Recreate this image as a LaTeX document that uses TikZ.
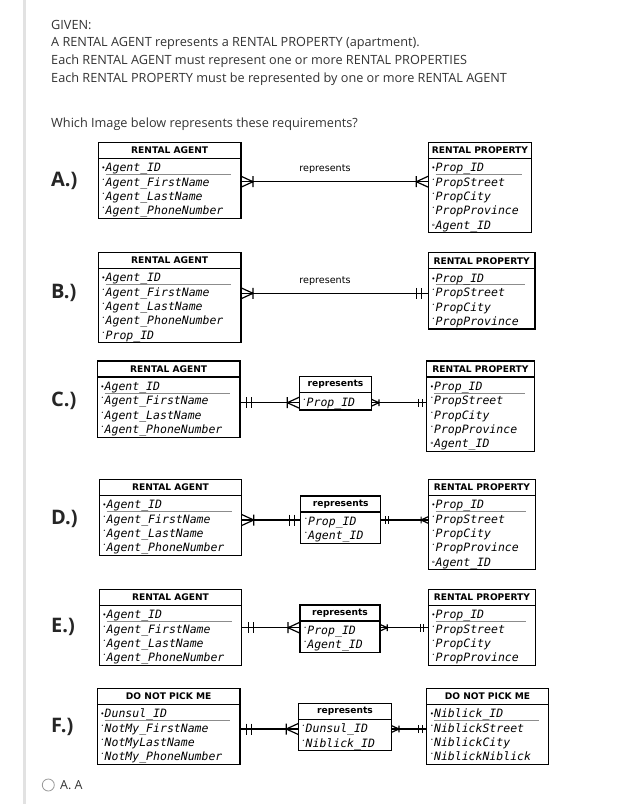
\documentclass[tikz,border=0pt]{standalone}
\usepackage{fontspec}
\setmainfont{Open Sans}
\newfontfamily\erfont{DejaVu Sans}
\newfontfamily\attrfont{DejaVu Sans Mono}
\usetikzlibrary{positioning}

\definecolor{ink}{HTML}{333333}
\definecolor{keyline}{HTML}{8C8C8C}
\definecolor{sidebar}{HTML}{E2E2E2}
\definecolor{radio}{HTML}{9A9A9A}

% attribute markers: key, plain attribute, foreign key
\newcommand\pkdot{\makebox[4.4pt][c]{\fontsize{7}{7}\selectfont\raisebox{1pt}{•}}}
\newcommand\atdot{\makebox[4.4pt][c]{\fontsize{4.5}{4.5}\selectfont\raisebox{5pt}{•}}}
\newcommand\fkdot{\makebox[4.4pt][c]{\fontsize{7}{7}\selectfont °}}
\newcommand\pkrow[1]{\pkdot\rlap{\textcolor{keyline}{\rule[-2.6pt]{\dimexpr\linewidth-11pt\relax}{.7pt}}}#1}

\begin{document}
\begin{tikzpicture}[x=1pt, y=-1pt,
    txt/.style={anchor=base west, inner sep=0pt, text=ink, font=\fontsize{12.7}{16}\selectfont},
    opt/.style={anchor=west, inner sep=0pt, text=black!85, font=\bfseries\fontsize{20}{22}\selectfont},
    head/.style={draw, line width=1.2pt, outer sep=0pt, anchor=north west, minimum height=16pt, inner sep=0pt, font=\erfont\bfseries\fontsize{9.1}{10}\selectfont},
    attrs/.style={draw, line width=1.2pt, outer sep=0pt, inner xsep=3pt, inner ysep=1.5pt, align=left, text height=12.1pt, font=\attrfont\itshape\fontsize{11.5}{14.3}\selectfont},
    r1/.style={text depth=2.1pt},
    r2/.style={text depth=16.4pt},
    r4/.style={text depth=45pt},
    r5/.style={text depth=59.3pt},
    lbl/.style={inner sep=0pt, font=\erfont\fontsize{9.6}{11}\selectfont},
    conn/.style={line width=1.2pt},
    crow/.pic={\draw[line width=1.2pt] (0,-5.5) -- (12,0) -- (0,5.5) (12,-5.5) -- (12,5.5);},
    bars/.pic={\draw[line width=1.2pt] (6.5,-5.5) -- (6.5,5.5) (11.5,-5.5) -- (11.5,5.5);}
]
\useasboundingbox (0,0) rectangle (621,804);
\fill[sidebar] (22.7,0) rectangle (25.5,804);

\node[txt] (given) at (51,29.3) {GIVEN:};
\node[txt] (line1) at (51,46.9) {A RENTAL AGENT represents a RENTAL PROPERTY (apartment).};
\node[txt] (line2) at (51,64.5) {Each RENTAL AGENT must represent one or more RENTAL PROPERTIES};
\node[txt] (line3) at (51,82.1) {Each RENTAL PROPERTY must be represented by one or more RENTAL AGENT};
\node[txt] (ask) at (51,127) {Which Image below represents these requirements?};

% A
\node[opt] (optA) at (51,181) {A.)};
\node[head, minimum width=142.7pt] (agentAh) at (98.3,142.3) {RENTAL AGENT};
\node[attrs, r4, text width=136.7pt, below=0pt of agentAh] (agentA) {\pkrow{Agent\_ID}\\\atdot Agent\_FirstName\\\atdot Agent\_LastName\\\atdot Agent\_PhoneNumber};
\node[head, minimum width=103.4pt] (propAh) at (428.3,142.3) {RENTAL PROPERTY};
\node[attrs, r5, text width=97.4pt, below=0pt of propAh] (propA) {\pkrow{Prop\_ID}\\\atdot PropStreet\\\atdot PropCity\\\atdot PropProvince\\\fkdot Agent\_ID};
\coordinate (lnA) at (0,181.7);
\node[lbl] (relA) at (325,169) {represents};
\draw[conn] (agentA.east |- lnA) -- (propA.west |- lnA);
\pic at (agentA.east |- lnA) {crow};
\pic[xscale=-1] at (propA.west |- lnA) {crow};

% B
\node[opt] (optB) at (51,293) {B.)};
\node[head, minimum width=142.7pt] (agentBh) at (98.3,252.3) {RENTAL AGENT};
\node[attrs, r5, text width=136.7pt, below=0pt of agentBh] (agentB) {\pkrow{Agent\_ID}\\\atdot Agent\_FirstName\\\atdot Agent\_LastName\\\atdot Agent\_PhoneNumber\\\atdot Prop\_ID};
\node[head, minimum width=106.7pt] (propBh) at (428.3,252.8) {RENTAL PROPERTY};
\node[attrs, r4, text width=100.7pt, below=0pt of propBh] (propB) {\pkrow{Prop\_ID}\\\atdot PropStreet\\\atdot PropCity\\\atdot PropProvince};
\coordinate (lnB) at (0,293.3);
\node[lbl] (relB) at (325,281) {represents};
\draw[conn] (agentB.east |- lnB) -- (propB.west |- lnB);
\pic at (agentB.east |- lnB) {crow};
\pic[xscale=-1] at (propB.west |- lnB) {bars};

% C
\node[opt] (optC) at (51,401) {C.)};
\node[head, minimum width=142.7pt] (agentCh) at (97.3,361) {RENTAL AGENT};
\node[attrs, r4, text width=136.7pt, below=0pt of agentCh] (agentC) {\pkrow{Agent\_ID}\\\atdot Agent\_FirstName\\\atdot Agent\_LastName\\\atdot Agent\_PhoneNumber};
\node[head, minimum width=72.4pt] (relCh) at (299.3,376.7) {represents};
\node[attrs, r1, text width=66.4pt, below=0pt of relCh] (relC) {\atdot Prop\_ID};
\node[head, minimum width=107.6pt] (propCh) at (426.7,361) {RENTAL PROPERTY};
\node[attrs, r5, text width=101.6pt, below=0pt of propCh] (propC) {\pkrow{Prop\_ID}\\\atdot PropStreet\\\atdot PropCity\\\atdot PropProvince\\\fkdot Agent\_ID};
\coordinate (lnC) at (0,402.7);
\draw[conn] (agentC.east |- lnC) -- (relC.west |- lnC);
\draw[conn] (relC.east |- lnC) -- (propC.west |- lnC);
\pic at (agentC.east |- lnC) {bars};
\pic[xscale=-1] at (relC.west |- lnC) {crow};
\pic[scale=.6] at (relC.east |- lnC) {crow};
\pic[xscale=-.7, yscale=.7] at (propC.west |- lnC) {bars};

% D
\node[opt] (optD) at (51,519) {D.)};
\node[head, minimum width=142.4pt] (agentDh) at (99.3,479.3) {RENTAL AGENT};
\node[attrs, r4, text width=136.4pt, below=0pt of agentDh] (agentD) {\pkrow{Agent\_ID}\\\atdot Agent\_FirstName\\\atdot Agent\_LastName\\\atdot Agent\_PhoneNumber};
\node[head, minimum width=80pt] (relDh) at (300.7,496) {represents};
\node[attrs, r2, text width=74pt, below=0pt of relDh] (relD) {\atdot Prop\_ID\\\atdot Agent\_ID};
\node[head, minimum width=107.4pt] (propDh) at (428.3,479.3) {RENTAL PROPERTY};
\node[attrs, r5, text width=101.4pt, below=0pt of propDh] (propD) {\pkrow{Prop\_ID}\\\atdot PropStreet\\\atdot PropCity\\\atdot PropProvince\\\fkdot Agent\_ID};
\coordinate (lnD) at (0,520);
\draw[conn] (agentD.east |- lnD) -- (relD.west |- lnD);
\draw[conn] (relD.east |- lnD) -- (propD.west |- lnD);
\pic at (agentD.east |- lnD) {crow};
\pic[xscale=-1] at (relD.west |- lnD) {bars};
\pic[scale=.7] at (relD.east |- lnD) {bars};
\pic[xscale=-.6, yscale=.6] at (propD.west |- lnD) {crow};

% E
\node[opt] (optE) at (51,627) {E.)};
\node[head, minimum width=142.4pt] (agentEh) at (99.3,589.3) {RENTAL AGENT};
\node[attrs, r4, text width=136.4pt, below=0pt of agentEh] (agentE) {\pkrow{Agent\_ID}\\\atdot Agent\_FirstName\\\atdot Agent\_LastName\\\atdot Agent\_PhoneNumber};
\node[head, minimum width=80pt] (relEh) at (300,605) {represents};
\node[attrs, r2, text width=74pt, below=0pt of relEh] (relE) {\atdot Prop\_ID\\\atdot Agent\_ID};
\node[head, minimum width=107.4pt] (propEh) at (428.3,589.3) {RENTAL PROPERTY};
\node[attrs, r4, text width=101.4pt, below=0pt of propEh] (propE) {\pkrow{Prop\_ID}\\\atdot PropStreet\\\atdot PropCity\\\atdot PropProvince};
\coordinate (lnE) at (0,627.7);
\draw[conn] (agentE.east |- lnE) -- (relE.west |- lnE);
\draw[conn] (relE.east |- lnE) -- (propE.west |- lnE);
\pic at (agentE.east |- lnE) {bars};
\pic[xscale=-1] at (relE.west |- lnE) {crow};
\pic[scale=.6] at (relE.east |- lnE) {crow};
\pic[xscale=-.7, yscale=.7] at (propE.west |- lnE) {bars};

% F
\node[opt] (optF) at (51,727) {F.)};
\node[head, minimum width=142.7pt] (dunsulh) at (97.3,688.3) {DO NOT PICK ME};
\node[attrs, r4, text width=136.7pt, below=0pt of dunsulh] (dunsul) {\pkrow{Dunsul\_ID}\\\atdot NotMy\_FirstName\\\atdot NotMyLastName\\\atdot NotMy\_PhoneNumber};
\node[head, minimum width=93.4pt] (relFh) at (298.3,703.3) {represents};
\node[attrs, r2, text width=87.4pt, below=0pt of relFh] (relF) {\atdot Dunsul\_ID\\\atdot Niblick\_ID};
\node[head, minimum width=121.6pt] (niblickh) at (426.7,688.3) {DO NOT PICK ME};
\node[attrs, r4, text width=115.6pt, below=0pt of niblickh] (niblick) {\pkrow{Niblick\_ID}\\\atdot NiblickStreet\\\atdot NiblickCity\\\atdot NiblickNiblick};
\coordinate (lnF) at (0,729);
\draw[conn] (dunsul.east |- lnF) -- (relF.west |- lnF);
\draw[conn] (relF.east |- lnF) -- (niblick.west |- lnF);
\pic at (dunsul.east |- lnF) {bars};
\pic[xscale=-1] at (relF.west |- lnF) {crow};
\pic[scale=.6] at (relF.east |- lnF) {crow};
\pic[xscale=-.7, yscale=.7] at (niblick.west |- lnF) {bars};

% answer
\node[draw=radio, circle, line width=.8pt, minimum size=12pt, inner sep=0pt] (radioA) at (48.3,785) {};
\node[txt, font=\fontsize{12.5}{15}\selectfont] (choice) at (60,789.5) {A. A};
\end{tikzpicture}
\end{document}
